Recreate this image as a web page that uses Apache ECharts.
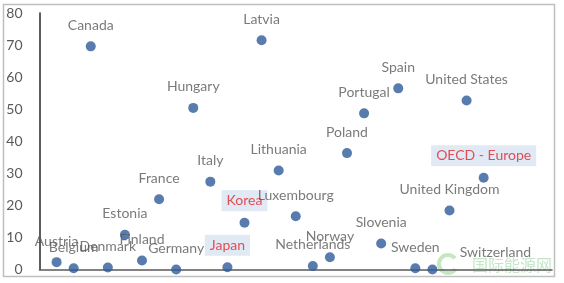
<!DOCTYPE html>
<html><head><meta charset="utf-8">
<script src="https://cdn.jsdelivr.net/npm/echarts@6/dist/echarts.min.js"></script>
<style>html,body{margin:0;padding:0;background:#fff}#c{width:564px;height:283px}</style>
</head><body><div id="c"></div>
<script>
const countries = ['Austria','Belgium','Canada','Denmark','Estonia','Finland','France','Germany','Hungary','Italy','Japan','Korea','Latvia','Lithuania','Luxembourg','Netherlands','Norway','Poland','Portugal','Slovenia','Spain','Sweden','Switzerland','United Kingdom','United States','OECD - Europe'];
const xIndex = [1,2,3,4,5,6,7,8,9,10,11,12,13,14,15,16,17,18,19,20,21,22,23,24,25,26];
const values = [2.3,0.4,69.6,0.6,10.8,2.8,21.9,0,50.4,27.4,0.7,14.6,71.5,30.9,16.6,1.1,3.8,36.3,48.7,8.1,56.5,0.4,0,18.4,52.7,28.6];
const highlighted = ['Japan','Korea','OECD - Europe'];
const yTicks = [0,10,20,30,40,50,60,70,80];

const FONT = 'Lato';
const data = countries.map((name, i) => {
  const d = { name: name, value: [xIndex[i], values[i]] };
  if (highlighted.includes(name)) {
    d.label = { color: '#e0262b', backgroundColor: '#dae3f3', padding: [3, 5], distance: 6.5 };
  }
  if (name === 'Switzerland') {
    d.label = { offset: [63, 4] };
  }
  return d;
});

const chart = echarts.init(document.getElementById('c'), null, { renderer: 'canvas' });
chart.setOption({
  animation: false,
  backgroundColor: '#fff',
  grid: { left: 39.5, right: 12, top: 13, bottom: 13.5, containLabel: false },
  xAxis: {
    type: 'value', min: 0, max: 30,
    axisLine: { show: true, onZero: false, lineStyle: { color: '#595959', width: 1.5 } },
    axisTick: { show: false }, axisLabel: { show: false }, splitLine: { show: false }
  },
  yAxis: {
    type: 'value', min: yTicks[0], max: yTicks[yTicks.length - 1], interval: 10,
    axisLine: { show: true, lineStyle: { color: '#262626', width: 1.5 } },
    axisTick: { show: false }, splitLine: { show: false },
    axisLabel: { color: '#595959', fontFamily: FONT, fontSize: 14, margin: 17 }
  },
  graphic: [
    { type: 'rect', shape: { x: 3.5, y: 4.5, width: 551, height: 272 }, style: { fill: 'none', stroke: '#bfbfbf', lineWidth: 1.5 }, silent: true, z: -1 },
    { type: 'arc', shape: { cx: 448, cy: 264, r: 9, startAngle: 0.6, endAngle: 5.6 }, style: { fill: 'none', stroke: 'rgba(150,210,140,0.55)', lineWidth: 4 }, z: 0 },
    { type: 'text', left: 472, top: 257, style: { text: '国际能源网', fontFamily: 'Noto Sans CJK SC', fontSize: 16, fill: 'rgba(120,200,130,0.45)' }, z: 0 }
  ],
  series: [{
    type: 'scatter',
    symbol: 'circle', symbolSize: 10,
    clip: false,
    itemStyle: { color: '#2e5b9a' },
    label: {
      show: true, position: 'top', distance: 8.5,
      formatter: p => p.name,
      color: '#595959', fontFamily: FONT, fontSize: 14, lineHeight: 15
    },
    data: data,
    z: 3
  }]
});
</script></body></html>
